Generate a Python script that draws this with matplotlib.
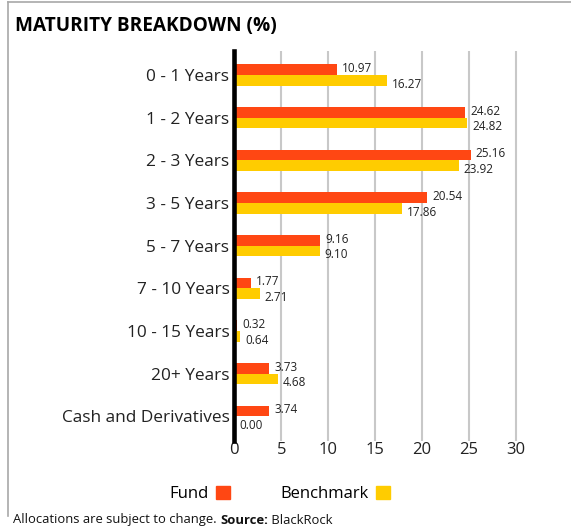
import matplotlib
matplotlib.use("Agg")
import matplotlib.pyplot as plt
from matplotlib.patches import Patch
from matplotlib.lines import Line2D
import numpy as np

categories = ["0 - 1 Years", "1 - 2 Years", "2 - 3 Years", "3 - 5 Years", "5 - 7 Years",
              "7 - 10 Years", "10 - 15 Years", "20+ Years", "Cash and Derivatives"]
fund = [10.97, 24.62, 25.16, 20.54, 9.16, 1.77, 0.32, 3.73, 3.74]
benchmark = [16.27, 24.82, 23.92, 17.86, 9.10, 2.71, 0.64, 4.68, 0.00]
xticks = [0, 5, 10, 15, 20, 25, 30]

FUND_C = "#FF4713"
BENCH_C = "#FFCC00"
FONT = "Open Sans"

W, H = 571, 528
fig = plt.figure(figsize=(W / 100, H / 100), dpi=100)

left = 234.3 / W
right = (234.3 + 30.5 * 9.39) / W
bottom = 1 - 441 / H
top = 1 - 51 / H
ax = fig.add_axes([left, bottom, right - left, top - bottom])

y = np.arange(len(categories))
bh = 0.25
ax.barh(y - bh / 2, fund, height=bh, color=FUND_C, zorder=3)
ax.barh(y + bh / 2, benchmark, height=bh, color=BENCH_C, zorder=3)

for i, (f, b) in enumerate(zip(fund, benchmark)):
    ax.annotate(f"{f:.2f}", (f, i - bh / 2), xytext=(3.5, 0.8), textcoords="offset points",
                ha="left", va="center", fontsize=8.5, color="#222222", family=FONT)
    ax.annotate(f"{b:.2f}", (b, i + bh / 2), xytext=(3.5, -2.8), textcoords="offset points",
                ha="left", va="center", fontsize=8.5, color="#222222", family=FONT)

ax.set_xlim(0, 30.5)
ax.set_ylim(len(categories) - 1 + 0.58, -0.56)
ax.set_xticks(xticks)
ax.set_xticklabels([str(t) for t in xticks], fontsize=12, family=FONT, color="#222222")
ax.set_yticks(y)
ax.set_yticklabels(categories, fontsize=12.4, family=FONT, color="#222222")
ax.tick_params(axis="y", length=0, pad=3.5)
ax.tick_params(axis="x", length=0, pad=1)
for s in ["top", "right", "bottom"]:
    ax.spines[s].set_visible(False)
ax.spines["left"].set_linewidth(3.3)
ax.spines["left"].set_color("black")
ax.spines["left"].set_zorder(5)
ax.xaxis.grid(True, color="#c8c8c8", linewidth=1.5, zorder=0)
ax.set_axisbelow(True)

# frame lines
fig.add_artist(Line2D([7.5 / W, 7.5 / W], [1 - 516 / H, 1 - 1.5 / H], color="#a8a8a8", linewidth=1.2,
                      transform=fig.transFigure))
fig.add_artist(Line2D([7.5 / W, 1.0], [1 - 1.5 / H, 1 - 1.5 / H], color="#a8a8a8", linewidth=1.2,
                      transform=fig.transFigure))

fig.text(15 / W, 1 - 26 / H, "MATURITY BREAKDOWN (%)", fontsize=13.7, fontweight="bold",
         family=FONT, ha="left", va="center", color="black")

handles = [Patch(color=FUND_C), Patch(color=BENCH_C)]
fig.legend(handles, ["Fund", "Benchmark"], loc="center", bbox_to_anchor=(279.5 / W, 1 - 494 / H),
           ncol=2, frameon=False, markerfirst=False, prop={"family": FONT, "size": 12},
           handlelength=0.85, handleheight=0.85, handletextpad=0.45, columnspacing=3.0)

# footer
fig.canvas.draw()
r = fig.canvas.get_renderer()
xpos = 13 / W
yfoot = 1 - 520 / H
parts = [("Allocations are subject to change. ", "normal"), ("Source:", "bold"), (" BlackRock", "normal")]
for txt, wt in parts:
    t = fig.text(xpos, yfoot, txt, fontsize=9.4, fontweight=wt, family=FONT, ha="left", va="center",
                 color="#111111")
    bb = t.get_window_extent(renderer=r)
    xpos += bb.width / W

fig.savefig("out.png", dpi=100)
